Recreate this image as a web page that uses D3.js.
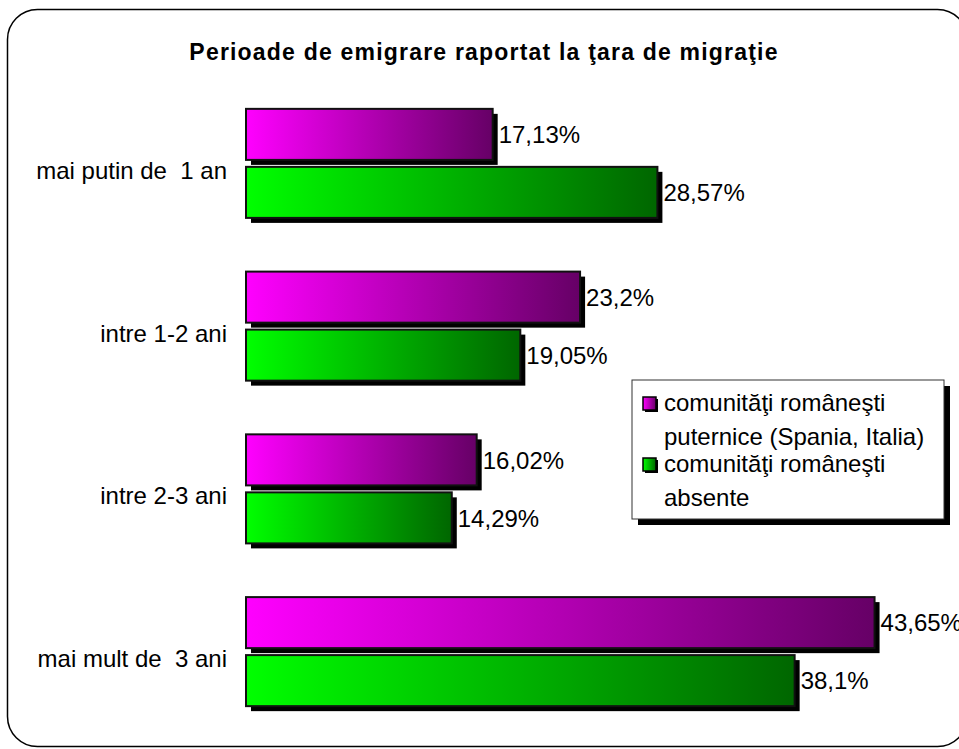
<!DOCTYPE html>
<html>
<head>
<meta charset="utf-8">
<script src="https://cdn.jsdelivr.net/npm/d3@7"></script>
<style>
  body { margin: 0; background: #fff; }
  svg { display: block; font-family: Arial, "Liberation Sans", sans-serif; }
</style>
</head>
<body>
<div id="chart"></div>
<script>
// data
var categories = ["mai putin de  1 an", "intre 1-2 ani", "intre 2-3 ani", "mai mult de  3 ani"];
var seriesNames = ["comunităţi româneşti puternice (Spania, Italia)", "comunităţi româneşti absente"];
var strongValues = [17.13, 23.2, 16.02, 43.65];
var absentValues = [28.57, 19.05, 14.29, 38.1];
var valueLabels = [["17,13%", "23,2%", "16,02%", "43,65%"], ["28,57%", "19,05%", "14,29%", "38,1%"]];
var legendLines = [["comunităţi româneşti", "puternice (Spania, Italia)"], ["comunităţi româneşti", "absente"]];

var w = 959, h = 749;
var colors = [["#ff00ff", "#660066"], ["#00ff00", "#006600"]];

var svg = d3.select("#chart").append("svg")
    .attr("width", w)
    .attr("height", h);

var defs = svg.append("defs");
colors.forEach(function(c, i) {
    var g = defs.append("linearGradient").attr("id", "grad" + i)
        .attr("x1", "0%").attr("x2", "100%").attr("y1", "0%").attr("y2", "0%");
    g.append("stop").attr("offset", "0%").attr("stop-color", c[0]);
    g.append("stop").attr("offset", "100%").attr("stop-color", c[1]);
});

// outer frame
svg.append("rect")
    .attr("x", 7.5).attr("y", 9.5)
    .attr("width", 960).attr("height", 737)
    .attr("rx", 30).attr("ry", 30)
    .attr("fill", "none")
    .attr("stroke", "#000")
    .attr("stroke-width", 1.5);

svg.append("text")
    .attr("x", 484).attr("y", 60)
    .attr("text-anchor", "middle")
    .attr("font-size", 23).attr("font-weight", "bold")
    .attr("letter-spacing", 1.2)
    .text("Perioade de emigrare raportat la ţara de migraţie");

var xScale = d3.scaleLinear().domain([0, 10]).range([246, 390]);

var yScale = d3.scaleBand()
    .domain(categories)
    .range([82, 733])
    .paddingInner(0.33)
    .paddingOuter(0.165);

var ySub = d3.scaleBand()
    .domain([0, 1])
    .range([0, yScale.bandwidth()])
    .paddingInner(0.12);

var rows = [];
categories.forEach(function(cat, i) {
    rows.push({cat: cat, s: 0, v: strongValues[i], label: valueLabels[0][i]});
    rows.push({cat: cat, s: 1, v: absentValues[i], label: valueLabels[1][i]});
});

var yAxis = d3.axisLeft(yScale).tickSize(0).tickPadding(19);
var yAxisGroup = svg.append("g")
    .attr("transform", "translate(" + [246, 0] + ")")
    .call(yAxis);
yAxisGroup.select(".domain").remove();
yAxisGroup.attr("font-size", null).attr("font-family", null);
yAxisGroup.selectAll("text")
    .attr("font-size", 24)
    .attr("fill", "#000")
    .attr("dy", "0.35em")
    .attr("transform", "translate(0,7)")
    .style("white-space", "pre");

var bars = svg.selectAll("g.bar").data(rows).enter()
    .append("g").attr("class", "bar")
    .attr("transform", function(d) { return "translate(0," + (yScale(d.cat) + ySub(d.s)) + ")"; });

// shadow
bars.append("rect")
    .attr("x", xScale(0) + 5)
    .attr("y", 5)
    .attr("width", function(d) { return xScale(d.v) - xScale(0); })
    .attr("height", ySub.bandwidth())
    .attr("fill", "#000");

bars.append("rect")
    .attr("x", xScale(0))
    .attr("y", 0)
    .attr("width", function(d) { return xScale(d.v) - xScale(0); })
    .attr("height", ySub.bandwidth())
    .attr("fill", function(d) { return "url(#grad" + d.s + ")"; })
    .attr("stroke", "#111")
    .attr("stroke-width", 2);

bars.append("text")
    .attr("x", function(d) { return xScale(d.v) + 6; })
    .attr("y", ySub.bandwidth() / 2)
    .attr("dy", "0.36em")
    .attr("font-size", 24)
    .text(function(d) { return d.label; });

// legend
var lg = svg.append("g").attr("transform", "translate(632,380)");
lg.append("rect").attr("x", 6).attr("y", 6).attr("width", 312).attr("height", 139).attr("fill", "#000");
lg.append("rect").attr("x", 0).attr("y", 0).attr("width", 312).attr("height", 139)
    .attr("fill", "#fff").attr("stroke", "#333").attr("stroke-width", 1);

seriesNames.forEach(function(name, i) {
    var gy = 12 + i * 61;
    lg.append("rect").attr("x", 13).attr("y", gy + 7).attr("width", 13).attr("height", 13).attr("fill", "#000");
    lg.append("rect").attr("x", 11).attr("y", gy + 5).attr("width", 13).attr("height", 13)
        .attr("fill", "url(#grad" + i + ")").attr("stroke", "#000").attr("stroke-width", 1.5);
    legendLines[i].forEach(function(line, j) {
        lg.append("text")
            .attr("x", 32).attr("y", gy + 19 + j * 34)
            .attr("font-size", 24)
            .text(line);
    });
});
</script>
</body>
</html>
